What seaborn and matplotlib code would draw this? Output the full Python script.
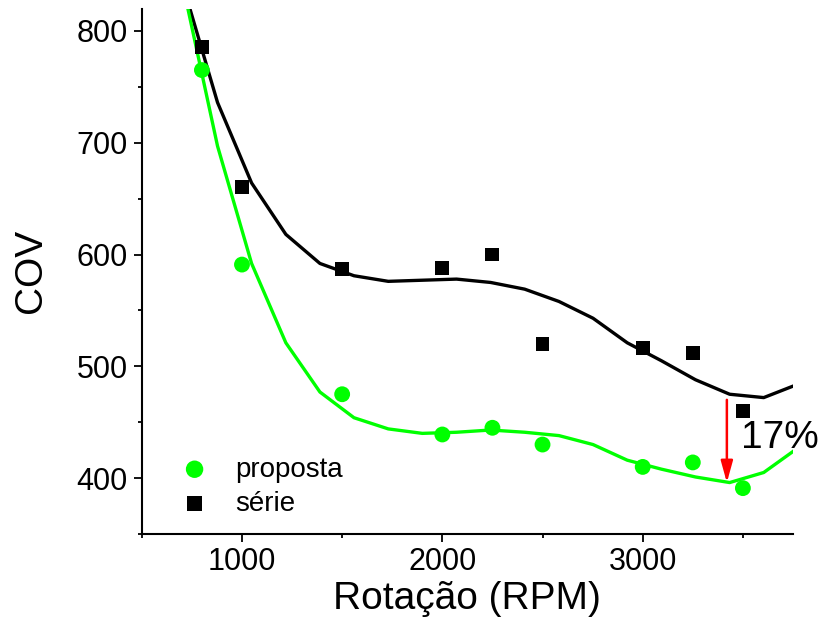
import matplotlib
matplotlib.use('Agg')
import matplotlib.pyplot as plt
from matplotlib.ticker import MultipleLocator
import pandas as pd
import seaborn as sns

# measured points
rpm = [800, 1000, 1500, 2000, 2250, 2500, 3000, 3250, 3500]
cov_proposta = [765, 591, 475, 439, 445, 430, 410, 414, 391]
cov_serie = [786, 660, 587, 588, 600, 520, 516, 512, 460]

# fitted curves
fit_rpm = [707, 878, 1048, 1219, 1389, 1559, 1730, 1900, 2071, 2241,
           2411, 2582, 2752, 2923, 3093, 3263, 3434, 3604, 3775]
fit_proposta = [839, 697, 592, 521, 477, 454, 444, 440, 441, 443,
                441, 438, 430, 416, 408, 401, 396, 405, 427]
fit_serie = [840, 736, 664, 618, 592, 581, 576, 577, 578, 575,
             569, 558, 543, 521, 505, 488, 475, 472, 484]

green = '#00ff00'

sns.set_style('ticks')
plt.rcParams['font.family'] = ['Liberation Sans', 'DejaVu Sans']
plt.rcParams.update({'text.color': 'black', 'axes.labelcolor': 'black',
                     'xtick.color': 'black', 'ytick.color': 'black',
                     'axes.edgecolor': 'black'})

pts = pd.DataFrame({'rpm': rpm, 'proposta': cov_proposta, 'serie': cov_serie})
fit = pd.DataFrame({'rpm': fit_rpm, 'proposta': fit_proposta, 'serie': fit_serie})

fig = plt.figure(figsize=(8.22, 6.26), dpi=100)
ax = fig.add_axes([0.1725, 0.147, 0.7922, 0.8393])

sns.lineplot(data=fit, x='rpm', y='serie', color='black', linewidth=2.4, ax=ax, legend=False)
sns.lineplot(data=fit, x='rpm', y='proposta', color=green, linewidth=2.4, ax=ax, legend=False)
sns.scatterplot(data=pts, x='rpm', y='proposta', color=green, marker='o', s=130,
                edgecolor='none', label='proposta', ax=ax, zorder=3)
sns.scatterplot(data=pts, x='rpm', y='serie', color='black', marker='s', s=100,
                edgecolor='none', label='série', ax=ax, zorder=3)

ax.annotate('', xy=(3420, 396), xytext=(3420, 470),
            arrowprops=dict(arrowstyle='-|>,head_length=0.65,head_width=0.18',
                            color='red', lw=1.8, mutation_scale=20,
                            shrinkA=0, shrinkB=0))
ax.text(3490, 436, '17%', fontsize=28, ha='left', va='center')

ax.set_xlim(500, 3750)
ax.set_ylim(350, 820)
ax.xaxis.set_major_locator(MultipleLocator(1000))
ax.xaxis.set_minor_locator(MultipleLocator(500))
ax.yaxis.set_major_locator(MultipleLocator(100))
ax.yaxis.set_minor_locator(MultipleLocator(50))
ax.tick_params(which='major', length=6, width=1.3, labelsize=22, direction='out')
ax.tick_params(which='minor', length=3, width=1.3, direction='out')
ax.set_xlabel('Rotação (RPM)', fontsize=28, labelpad=3)
ax.set_ylabel('COV', fontsize=28, labelpad=20)
ax.tick_params(axis='y', pad=4)

for side in ['top', 'right']:
    ax.spines[side].set_visible(False)
for side in ['left', 'bottom']:
    ax.spines[side].set_linewidth(1.5)

ax.legend(loc='lower left', bbox_to_anchor=(0.0, -0.015), frameon=False,
          fontsize=20, handletextpad=0.45, labelspacing=0.3, markerscale=1.1)

fig.savefig('out.png', dpi=100)
